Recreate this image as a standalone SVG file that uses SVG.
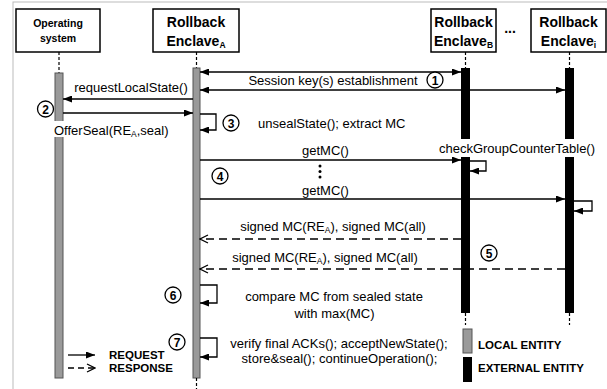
<svg xmlns="http://www.w3.org/2000/svg" width="607" height="389" viewBox="0 0 607 389">
<style>
.box{fill:#fff;stroke:#000;stroke-width:1.5}
.hd{font-family:"Liberation Sans",Arial,sans-serif;font-weight:bold;font-size:14px;text-anchor:middle}
.hds{font-family:"Liberation Sans",Arial,sans-serif;font-weight:bold;font-size:10.5px;text-anchor:middle}
.t{font-family:"Liberation Sans",Arial,sans-serif;font-size:13px}
.b{font-family:"Liberation Sans",Arial,sans-serif;font-size:11.5px;font-weight:bold}
.ll{stroke:#000;stroke-width:1.2;stroke-dasharray:3,2;fill:none}
.msg{stroke:#000;stroke-width:1.3;fill:none}
.rsp{stroke:#000;stroke-width:1.3;fill:none;stroke-dasharray:8,5}
.num{fill:#fff;stroke:#000;stroke-width:1.3}
.nt{font-family:"Liberation Sans",Arial,sans-serif;font-weight:bold;font-size:12px;text-anchor:middle}
.loc{fill:#9a9a9a;stroke:#555;stroke-width:1}
.ext{fill:#000}
</style>
<defs>
<marker id="ah" markerUnits="userSpaceOnUse" markerWidth="9" markerHeight="7" refX="9" refY="3.5" orient="auto-start-reverse"><path d="M0,0 L9,3.5 L0,7 z" fill="#000"/></marker>
<marker id="oh" markerUnits="userSpaceOnUse" markerWidth="10" markerHeight="10" refX="9" refY="5" orient="auto"><path d="M1,1 L9,5 L1,9" fill="none" stroke="#000" stroke-width="1.3"/></marker>
</defs>
<rect x="13" y="2" width="620" height="420" fill="#fff" stroke="#bbb" stroke-width="1"/>

<g id="os">
<rect class="box" x="16" y="9" width="84" height="43"/>
<text class="hds" x="58" y="27">Operating</text>
<text class="hds" x="58" y="42">system</text>
<line class="ll" x1="59" y1="52" x2="59" y2="73"/>
<rect class="loc" x="55" y="73" width="8" height="305"/>
</g>
<g id="enclaveA">
<rect class="box" x="153" y="9" width="86" height="43"/>
<text class="hd" x="196" y="27">Rollback</text>
<text class="hd" x="196" y="46">Enclave<tspan font-size="8.5" dy="2">A</tspan></text>
<line class="ll" x1="196.5" y1="52" x2="196.5" y2="68"/>
<rect class="loc" x="193" y="68" width="7" height="310"/>
<line class="ll" x1="196.5" y1="378" x2="196.5" y2="389"/>
</g>
<g id="enclaveB">
<rect class="box" x="431" y="9" width="65" height="43"/>
<text class="hd" x="463.5" y="27">Rollback</text>
<text class="hd" x="463.5" y="46">Enclave<tspan font-size="8.5" dy="2">B</tspan></text>
<line class="ll" x1="465.5" y1="52" x2="465.5" y2="68"/>
<rect class="ext" x="461" y="68" width="9" height="245"/>
<line class="ll" x1="465.5" y1="313" x2="465.5" y2="325"/>
</g>
<text class="hd" x="510" y="33">...</text>
<g id="enclaveI">
<rect class="box" x="531" y="9" width="75" height="43"/>
<text class="hd" x="568.5" y="27">Rollback</text>
<text class="hd" x="568.5" y="46">Enclave<tspan font-size="8.5" dy="2">i</tspan></text>
<line class="ll" x1="569.5" y1="52" x2="569.5" y2="68"/>
<rect class="ext" x="565" y="68" width="9" height="245"/>
<line class="ll" x1="569.5" y1="313" x2="569.5" y2="325"/>
</g>

<g id="connectors">
<line class="msg" x1="200" y1="72" x2="461" y2="72" marker-start="url(#ah)" marker-end="url(#ah)"/>
<line class="msg" x1="200" y1="90" x2="565" y2="90" marker-start="url(#ah)" marker-end="url(#ah)"/>
<line class="msg" x1="193" y1="99" x2="63" y2="99" marker-end="url(#ah)"/>
<line class="msg" x1="63" y1="113" x2="193" y2="113" marker-end="url(#ah)"/>
<polyline class="msg" points="200,114 216,114 216,130 200,130" marker-end="url(#ah)"/>
<line class="msg" x1="200" y1="160" x2="461" y2="160" marker-end="url(#ah)"/>
<polyline class="msg" points="470,161 486,161 486,171 470,171" marker-end="url(#ah)"/>
<line class="msg" x1="200" y1="199" x2="565" y2="199" marker-end="url(#ah)"/>
<polyline class="msg" points="574,201 592,201 592,211 574,211" marker-end="url(#ah)"/>
<line class="rsp" x1="461" y1="239" x2="200" y2="239" marker-end="url(#oh)"/>
<line class="rsp" x1="565" y1="269" x2="200" y2="269" marker-end="url(#oh)"/>
<polyline class="msg" points="200,285 217,285 217,303 200,303" marker-end="url(#ah)"/>
<polyline class="msg" points="200,338 217,338 217,357 200,357" marker-end="url(#ah)"/>
</g>

<g id="labels">
<text class="t" x="333" y="84.5" text-anchor="middle" font-size="13.5">Session key(s) establishment</text>
<text class="t" x="131" y="91.5" text-anchor="middle">requestLocalState()</text>
<rect x="53" y="121" width="117" height="16" fill="#fff"/>
<text class="t" x="54" y="134.5">OfferSeal(RE<tspan font-size="8.5" dy="2">A</tspan><tspan dy="-2">,seal)</tspan></text>
<text class="t" x="258" y="127.5">unsealState(); extract MC</text>
<text class="t" x="302" y="154.5">getMC()</text>
<circle cx="320" cy="166" r="1.5"/><circle cx="320" cy="171.5" r="1.5"/><circle cx="320" cy="177" r="1.5"/>
<text class="t" x="302" y="194.5">getMC()</text>
<rect x="434" y="139" width="168" height="18" fill="#fff"/>
<text class="t" x="517" y="152.5" text-anchor="middle">checkGroupCounterTable()</text>
<text class="t" x="333" y="231" text-anchor="middle">signed MC(RE<tspan font-size="8.5" dy="2">A</tspan><tspan dy="-2">), signed MC(all)</tspan></text>
<text class="t" x="325" y="261.5" text-anchor="middle">signed MC(RE<tspan font-size="8.5" dy="2">A</tspan><tspan dy="-2">), signed MC(all)</tspan></text>
<text class="t" x="334" y="301" text-anchor="middle">compare MC from sealed state</text>
<text class="t" x="334.5" y="317.5" text-anchor="middle">with max(MC)</text>
<text class="t" x="339" y="347.5" text-anchor="middle">verify final ACKs(); acceptNewState();</text>
<text class="t" x="339.5" y="362.5" text-anchor="middle">store&amp;seal(); continueOperation();</text>
</g>

<g id="steps">
<circle class="num" cx="435" cy="80" r="8"/><text class="nt" x="435" y="84.5">1</text>
<circle class="num" cx="45.5" cy="109" r="8"/><text class="nt" x="45.5" y="113.5">2</text>
<circle class="num" cx="231" cy="123" r="8"/><text class="nt" x="231" y="127.5">3</text>
<circle class="num" cx="220" cy="176" r="8"/><text class="nt" x="220" y="180.5">4</text>
<circle class="num" cx="489" cy="253" r="8"/><text class="nt" x="489" y="257.5">5</text>
<circle class="num" cx="173" cy="295" r="8"/><text class="nt" x="173" y="299.5">6</text>
<circle class="num" cx="177" cy="342" r="8"/><text class="nt" x="177" y="346.5">7</text>
</g>

<g id="legend">
<line class="msg" x1="68" y1="355" x2="95" y2="355" marker-end="url(#ah)"/>
<line x1="68" y1="368" x2="95" y2="368" stroke="#000" stroke-width="1.3" stroke-dasharray="6,4" marker-end="url(#oh)"/>
<text class="b" x="109" y="359">REQUEST</text>
<text class="b" x="109" y="372">RESPONSE</text>
<rect class="loc" x="463" y="329" width="9" height="24"/>
<rect class="ext" x="463" y="357" width="9" height="25"/>
<text class="b" x="478" y="349">LOCAL ENTITY</text>
<text class="b" x="478" y="372">EXTERNAL ENTITY</text>
</g>
</svg>
